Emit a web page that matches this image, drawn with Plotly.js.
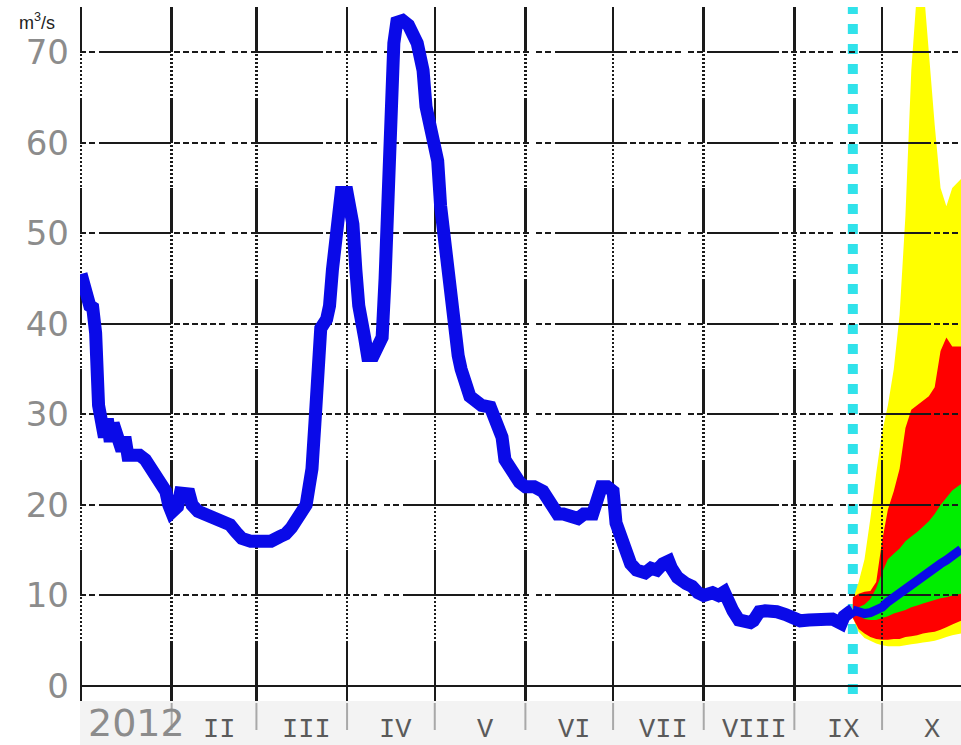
<!DOCTYPE html>
<html>
<head>
<meta charset="utf-8">
<script src="https://cdn.plot.ly/plotly-3.0.1.min.js"></script>
<style>
  html, body { margin: 0; padding: 0; background: #ffffff; }
  #chart { width: 961px; height: 745px; }
</style>
</head>
<body>
<div id="chart"></div>
<script>
// Days are counted from 1 January 2012 (day 0).
const monthStarts  = [0, 31, 60, 91, 121, 152, 182, 213, 244, 274];
const monthLengths = [31, 29, 31, 30, 31, 30, 31, 31, 30, 31];
const monthLabels  = ['2012', 'II', 'III', 'IV', 'V', 'VI', 'VII', 'VIII', 'IX', 'X'];
const lastDay = 301;
const forecastStart = 264;

const yTicks = [0, 10, 20, 30, 40, 50, 60, 70];

// Observed daily discharge, m3/s
const flowDay = [0, 1, 2, 3, 4, 5, 6, 7, 8, 9, 10, 11, 12, 14, 15, 16, 18, 20, 22, 24, 25, 27, 29, 30, 31,
  33, 34, 37, 38, 40, 42, 45, 48, 51, 53, 55, 58, 60, 63, 65, 68, 70, 72, 75, 77, 78, 79, 80, 81, 82,
  84, 85, 86, 88, 89, 91, 93, 94, 95, 97, 98, 100, 101, 103, 104, 105, 106, 107, 108, 110, 112, 114,
  115, 117, 118, 120, 122, 123, 125, 127, 129, 130, 132, 133, 135, 137, 140, 142, 144, 145, 147, 148,
  150, 152, 155, 158, 160, 161, 163, 165, 168, 170, 172, 175, 176, 178, 180, 182, 183, 185, 186, 188,
  190, 193, 195, 197, 199, 201, 202, 204, 207, 209, 211, 213, 216, 218, 220, 221, 223, 225, 227, 229,
  230, 232, 234, 236, 238, 241, 243, 246, 249, 253, 255, 257, 260, 261, 263, 264];
const flowValue = [45.5, 44, 42.5, 42, 41.8, 39, 31, 29, 27.5, 29.5, 27, 29, 28, 26, 27.5, 25.5, 25.5, 25.5, 25, 24, 23, 22.3, 21.5, 20, 19.2,
  19.8, 21.3, 21.2, 20, 19.3, 19, 18.5, 18, 17.8, 17, 16.3, 16, 16, 16.2, 16, 16.5, 16.8, 17.5, 18.8, 20, 22, 24, 29, 34, 39.5,
  40.5, 42, 46, 51, 54.5, 54.5, 51, 46, 42, 38.5, 36.5, 36.5, 37, 38.5, 45, 55, 65, 71, 73.3, 73.5, 73, 71.5,
  71, 68, 64, 61, 58, 53, 46.5, 40, 36.5, 35, 33.5, 32, 31.5, 31, 30.8, 29.5, 27.5, 25, 24, 23,
  22.5, 22, 22, 21.5, 20.5, 19.5, 19, 19, 18.5, 18.5, 19, 19, 20, 22, 22, 21.5, 18, 16, 14.5, 13.5,
  12.8, 12.5, 13, 12.8, 13.5, 13.8, 13, 12, 11.3, 11, 10.3, 10, 10.3, 10, 10.4, 9.5, 8.3, 7.3, 7, 7,
  7.2, 8.2, 8.3, 8.4, 8.2, 7.9, 7.6, 7.2, 7.3, 7.2, 7.5, 7.4, 6.9, 7.7, 8.2, 8.4];

// Ensemble forecast from the issue day onwards
const fcDay        = [264, 266, 268, 270, 272, 274, 276, 278, 280, 282, 284, 286, 288, 290, 292, 294, 296, 298, 301];
const fcMedian     = [8.4, 8.2, 8.0, 8.1, 8.4, 8.7, 9.3, 9.8, 10.3, 10.8, 11.2, 11.6, 12.0, 12.6, 13.0, 13.5, 13.9, 14.4, 15.1];
const fcGreenHigh  = [8.6, 8.7, 9.0, 9.6, 10.8, 12.5, 14.0, 14.6, 15.2, 16.0, 16.5, 17.0, 17.6, 18.2, 19.0, 20.0, 20.8, 21.6, 22.3];
const fcGreenLow   = [8.2, 7.8, 7.4, 7.3, 7.3, 7.5, 7.7, 8.0, 8.2, 8.4, 8.7, 8.9, 9.1, 9.3, 9.5, 9.7, 9.8, 10.0, 10.2];
const fcRedHigh    = [9.8, 10.2, 10.4, 10.5, 11.5, 16, 19.5, 21.5, 24, 28.5, 30.5, 31, 31.5, 32, 33, 37, 38.5, 37.5, 37.5];
const fcRedLow     = [7.5, 6.3, 5.8, 5.4, 5.2, 5.1, 5.1, 5.2, 5.2, 5.4, 5.5, 5.6, 5.8, 5.9, 6.0, 6.2, 6.5, 6.8, 7.2];
const fcYellowHigh = [9.5, 11.5, 14, 18.5, 23.5, 28, 31, 35, 41, 52, 68, 77, 78, 70, 62, 55, 53, 55, 56];
const fcYellowLow  = [7.5, 6.0, 5.3, 5.0, 4.7, 4.5, 4.4, 4.4, 4.4, 4.5, 4.6, 4.7, 4.8, 4.9, 5.0, 5.2, 5.4, 5.6, 5.8];

// ---- styling helpers ----
function dashPattern(parts) { return parts.map(v => v + 'px').join(','); }

// horizontal grid: dashed, a long solid run, dashed again (repeats every ~152 px)
const hGridDash = dashPattern([6, 3, 6, 4, 72, 3, 6, 3, 6, 3, 6, 3, 6, 3, 6, 3, 6, 7]);
// vertical grid: solid run above each horizontal line, dotted run below it
const vParts = [45, 2];
for (let i = 0; i < 10; i++) vParts.push(2, 2);
vParts.push(2, 1.5);
const vGridDash = dashPattern(vParts);

// Forecast envelopes sit beneath the grid, so they are drawn as data-space
// polygons on the lowest shape layer.
function bandShape(high, low, color) {
  const pts = [];
  fcDay.forEach((d, i) => pts.push([d, high[i]]));
  for (let i = fcDay.length - 1; i >= 0; i--) pts.push([fcDay[i], low[i]]);
  const path = pts.map((p, i) => (i ? 'L' : 'M') + p[0] + ',' + p[1]).join(' ') + ' Z';
  return { type: 'path', xref: 'x', yref: 'y', path: path, layer: 'below',
           fillcolor: color, line: { width: 0 } };
}

const traces = [
  {
    x: fcDay, y: fcMedian, type: 'scatter', mode: 'lines', name: 'forecast median',
    line: { color: '#0a0ae8', width: 9 }, showlegend: false
  },
  {
    x: flowDay, y: flowValue, type: 'scatter', mode: 'lines', name: 'observed',
    line: { color: '#0a0ae8', width: 13 }, showlegend: false
  }
];

const plotTop = 7, plotBottom = 686, plotH = plotBottom - plotTop;
const pxToPaper = px => (plotBottom - px) / plotH;

const shapes = [
  // light strip under the axis holding month names
  { type: 'rect', xref: 'paper', yref: 'paper', x0: 0, x1: 1,
    y0: pxToPaper(745), y1: pxToPaper(701), fillcolor: '#f3f3f3', line: { width: 0 }, layer: 'below' },
  bandShape(fcYellowHigh, fcYellowLow, '#ffff00'),
  bandShape(fcRedHigh, fcRedLow, '#ff0000'),
  bandShape(fcGreenHigh, fcGreenLow, '#00ee00'),
  // forecast issue day
  { type: 'line', xref: 'x', yref: 'paper', x0: forecastStart, x1: forecastStart,
    y0: pxToPaper(694), y1: 1, layer: 'between',
    line: { color: '#30e2ea', width: 10, dash: '10px,10px' } }
];
monthStarts.slice(1).forEach(d => {
  shapes.push({ type: 'line', xref: 'x', yref: 'paper', x0: d, x1: d,
    y0: pxToPaper(703), y1: pxToPaper(730), line: { color: '#a8a8a8', width: 2 } });
});

const annotations = [
  { xref: 'paper', yref: 'paper', x: -0.049, y: pxToPaper(21), showarrow: false,
    xanchor: 'center', yanchor: 'middle', text: 'm<sup>3</sup>/s',
    font: { family: 'Liberation Sans, Arial, sans-serif', size: 18, color: '#222222' } }
];
monthLabels.forEach((lab, i) => {
  if (i === 0) {
    annotations.push({ xref: 'x', yref: 'paper', x: monthStarts[0], xshift: 5, y: pxToPaper(723),
      xanchor: 'left', yanchor: 'middle', showarrow: false, text: lab,
      font: { family: 'DejaVu Sans, sans-serif', size: 38, color: '#8c8c8c' } });
  } else {
    annotations.push({ xref: 'x', yref: 'paper', x: monthStarts[i] + monthLengths[i] / 2, xshift: 5,
      y: pxToPaper(730), xanchor: 'center', yanchor: 'middle', showarrow: false, text: lab,
      font: { family: 'Liberation Mono, Courier New, monospace', size: 27, color: '#5a5a5a' } });
  }
});

const layout = {
  width: 961, height: 745,
  margin: { l: 80, r: 0, t: plotTop, b: 745 - plotBottom, pad: 0 },
  paper_bgcolor: '#ffffff', plot_bgcolor: '#ffffff',
  showlegend: false,
  xaxis: {
    type: 'linear', range: [-0.35, lastDay], fixedrange: true,
    tickmode: 'array', tickvals: monthStarts, showticklabels: false,
    ticks: 'outside', ticklen: 14, tickwidth: 2.5, tickcolor: '#1a1a1a',
    showgrid: true, gridcolor: '#1a1a1a', gridwidth: 2.5, griddash: vGridDash,
    zeroline: false, showline: false
  },
  yaxis: {
    range: [0, 75], fixedrange: true,
    tickmode: 'array', tickvals: yTicks, ticktext: yTicks.map(String),
    ticks: '', ticklabelstandoff: 10,
    tickfont: { family: 'DejaVu Sans, sans-serif', size: 34, color: '#8c8c8c' },
    showgrid: true, gridcolor: '#1a1a1a', gridwidth: 2, griddash: hGridDash,
    zeroline: true, zerolinecolor: '#1a1a1a', zerolinewidth: 2, showline: false
  },
  shapes: shapes,
  annotations: annotations
};

Plotly.newPlot('chart', traces, layout, { displayModeBar: false, staticPlot: true });
</script>
</body>
</html>
